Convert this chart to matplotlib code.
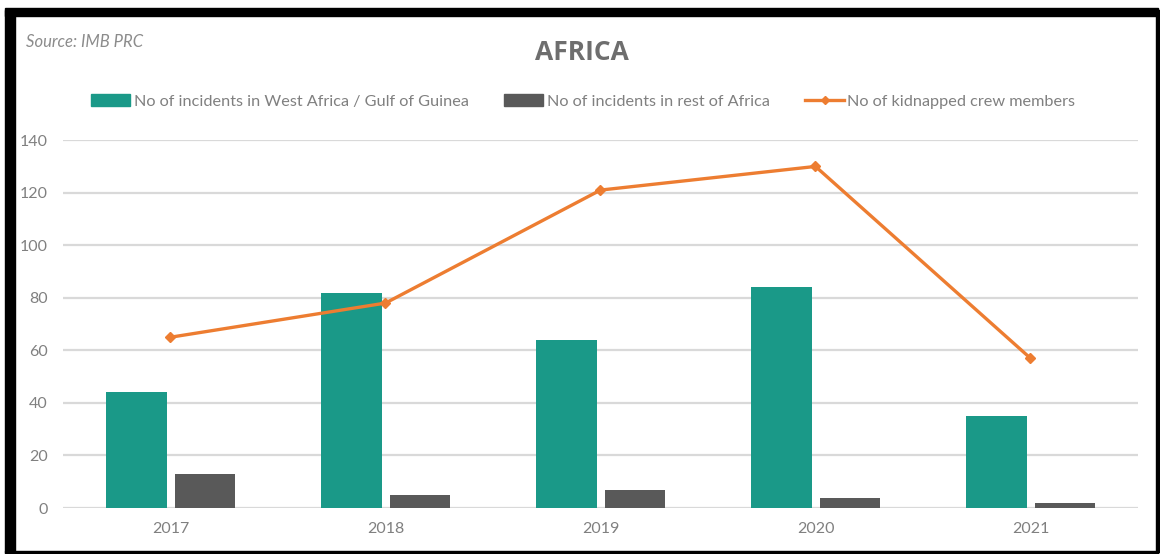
import matplotlib.pyplot as plt
import numpy as np
from matplotlib.patches import Rectangle
from matplotlib.lines import Line2D

# data
years = ['2017', '2018', '2019', '2020', '2021']
west_africa = [44, 82, 64, 84, 35]
rest_africa = [13, 5, 7, 4, 2]
kidnapped = [65, 78, 121, 130, 57]

plt.rcParams['font.family'] = ['Lato', 'DejaVu Sans']

green = '#1a9988'
grey = '#595959'
orange = '#ed7d31'
txt = '#808080'

fig = plt.figure(figsize=(11.6, 5.54), dpi=100)
ax = fig.add_axes([0.0543, 0.083, 0.9267, 0.664])

x = np.arange(len(years))
w = 0.28
ax.bar(x - 0.158, west_africa, w, color=green, zorder=2)
ax.bar(x + 0.162, rest_africa, w, color=grey, zorder=2)
ax.plot(x, kidnapped, color=orange, lw=2.4, marker='D', ms=5.5, zorder=3)

ax.set_xlim(-0.5, len(years) - 0.5)
ax.set_ylim(0, 140)
ax.set_yticks(range(0, 141, 20))
ax.set_xticks(x)
ax.set_xticklabels(years)
ax.grid(axis='y', color='#d9d9d9', lw=1.6, zorder=0)
for s in ax.spines.values():
    s.set_visible(False)
ax.tick_params(length=0, colors=txt, labelsize=11.5)
ax.tick_params(axis='y', pad=11)
ax.tick_params(axis='x', pad=10)

fig.text(0.502, 0.905, 'AFRICA', ha='center', va='center', fontsize=19,
         fontweight='bold', family=['Open Sans', 'DejaVu Sans'], color='#6e6e6e')
fig.text(0.022, 0.924, 'Source: IMB PRC', ha='left', va='center', fontsize=12,
         style='italic', color='#8c8c8c')

handles = [Rectangle((0, 0), 1, 1, color=green),
           Rectangle((0, 0), 1, 1, color=grey),
           Line2D([], [], color=orange, lw=2.4, marker='D', ms=4)]
labels = ['No of incidents in West Africa / Gulf of Guinea',
          'No of incidents in rest of Africa',
          'No of kidnapped crew members']
leg = fig.legend(handles, labels, loc='center', bbox_to_anchor=(0.503, 0.817),
                 ncol=3, frameon=False, fontsize=11.7, handlelength=2.4,
                 handleheight=0.7, handletextpad=0.2, columnspacing=2.2)
for t in leg.get_texts():
    t.set_color(txt)

# black frame around the picture, as in the screenshot
for r in [(0.004, 0.004, 0.009, 0.978),
          (0.004, 0.971, 0.994, 0.015),
          (0.9965, 0.004, 0.0035, 0.978),
          (0.004, 0.0, 0.994, 0.005)]:
    fig.add_artist(Rectangle(r[:2], r[2], r[3], transform=fig.transFigure,
                             color='black', zorder=10))

plt.savefig('out.png', dpi=100)
